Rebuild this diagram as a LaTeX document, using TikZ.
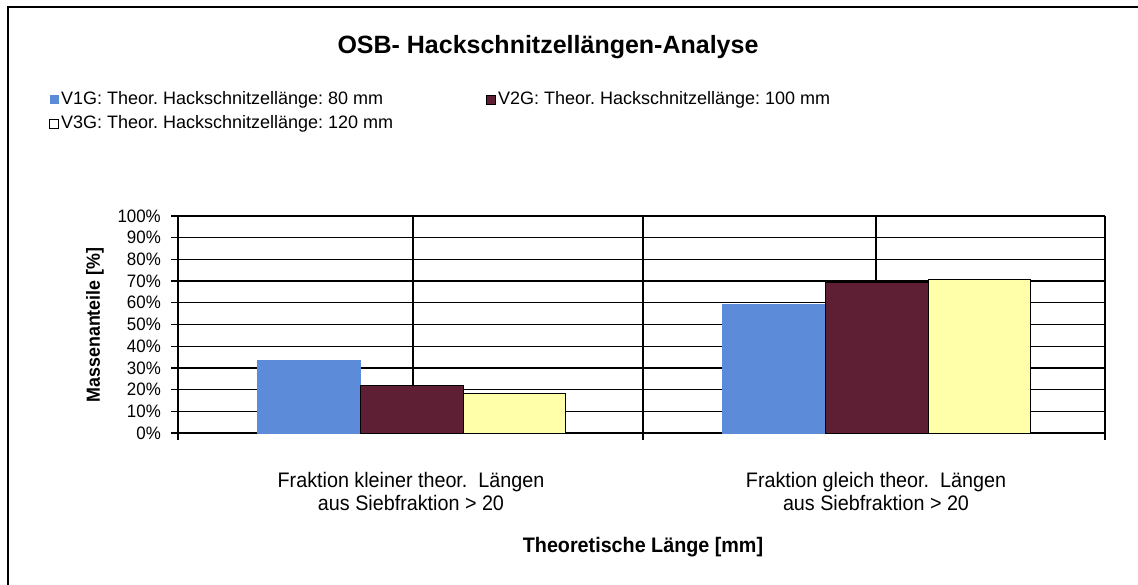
\documentclass[tikz,border=0pt]{standalone}
\usepackage{fontspec}
\setmainfont{Liberation Sans}
\newfontfamily\narrowfont[FakeStretch=0.94]{Liberation Sans}
\usepackage{tikz}
\usetikzlibrary{positioning}
\definecolor{barblue}{RGB}{91,139,217}
\definecolor{barred}{RGB}{94,31,52}
\definecolor{baryellow}{RGB}{255,255,170}

\begin{document}
\frenchspacing
\begin{tikzpicture}[
        x=1pt, y=-1pt,
        % Text styles of the chart
        charttitle/.style={inner sep=0pt, font=\bfseries\fontsize{25}{30}\selectfont},
        legendtext/.style={anchor=west, inner sep=0pt, font=\fontsize{18}{22}\selectfont},
        ticklabel/.style={anchor=east, inner sep=0pt, font=\narrowfont\fontsize{18}{20}\selectfont},
        catlabel/.style={align=center, inner sep=0pt, font=\narrowfont\fontsize{21}{23}\selectfont},
        axistitle/.style={inner sep=0pt, font=\narrowfont\bfseries\fontsize{21}{24}\selectfont},
        % Lines and boxes
        gridline/.style={line width=1.2pt},
        bar/.style={line width=1pt},
        legendbox/.style={minimum size=9pt, inner sep=0pt, line width=0.8pt}
    ]
    \useasboundingbox (0,0) rectangle (1138,585);

    % outer frame, cut off at the right and at the bottom
    \draw[line width=1.2pt] (8,585) -- (8,7) -- (1138,7);

    \node[charttitle] (title) at (548,47) {OSB- Hackschnitzellängen-Analyse};

    % legend
    \node[legendbox, fill=barblue] (keyone) at (54,100) {};
    \node[legendtext, right=2pt of keyone] (labelone) {V1G: Theor. Hackschnitzellänge: 80 mm};
    \node[legendbox, fill=barred, draw=black] (keytwo) at (491,100) {};
    \node[legendtext, right=2pt of keytwo] (labeltwo) {V2G: Theor. Hackschnitzellänge: 100 mm};
    \node[legendbox, fill=white, draw=black] (keythree) at (54,124) {};
    \node[legendtext, right=2pt of keythree] (labelthree) {V3G: Theor. Hackschnitzellänge: 120 mm};

    % horizontal grid with ticks
    \draw[gridline] (171,216) -- (1105,216);
    \draw[gridline] (171,237.7) -- (1105,237.7);
    \draw[gridline] (171,259.4) -- (1105,259.4);
    \draw[gridline] (171,281.1) -- (1105,281.1);
    \draw[gridline] (171,302.8) -- (1105,302.8);
    \draw[gridline] (171,324.5) -- (1105,324.5);
    \draw[gridline] (171,346.2) -- (1105,346.2);
    \draw[gridline] (171,367.9) -- (1105,367.9);
    \draw[gridline] (171,389.6) -- (1105,389.6);
    \draw[gridline] (171,411.3) -- (1105,411.3);
    \draw[gridline] (171,433) -- (1105,433);

    % vertical lines
    \draw[gridline] (178,216) -- (178,440);
    \draw[gridline] (413,216) -- (413,433);
    \draw[gridline] (643,216) -- (643,440);
    \draw[gridline] (876,216) -- (876,433);
    \draw[gridline] (1105,216) -- (1105,440);

    % tick labels
    \node[ticklabel] (tick100) at (161,216) {100\%};
    \node[ticklabel] (tick90) at (161,237.7) {90\%};
    \node[ticklabel] (tick80) at (161,259.4) {80\%};
    \node[ticklabel] (tick70) at (161,281.1) {70\%};
    \node[ticklabel] (tick60) at (161,302.8) {60\%};
    \node[ticklabel] (tick50) at (161,324.5) {50\%};
    \node[ticklabel] (tick40) at (161,346.2) {40\%};
    \node[ticklabel] (tick30) at (161,367.9) {30\%};
    \node[ticklabel] (tick20) at (161,389.6) {20\%};
    \node[ticklabel] (tick10) at (161,411.3) {10\%};
    \node[ticklabel] (tick0) at (161,433) {0\%};

    % bars: fraction smaller than the theoretical length
    \filldraw[bar, fill=barblue, draw=barblue] (257,433) rectangle (360,360.7);
    \filldraw[bar, fill=barred, draw=black] (360,433) rectangle (463,385);
    \filldraw[bar, fill=baryellow, draw=black] (463,433) rectangle (565,393.1);

    % bars: fraction equal to the theoretical length
    \filldraw[bar, fill=barblue, draw=barblue] (722,433) rectangle (825,304.1);
    \filldraw[bar, fill=barred, draw=black] (825,433) rectangle (928,282.4);
    \filldraw[bar, fill=baryellow, draw=black] (928,433) rectangle (1030,279.4);

    % axis labels
    \node[catlabel] (catsmall) at (411,491.5) {Fraktion kleiner theor.\ \ Längen\\aus Siebfraktion > 20};
    \node[catlabel] (catequal) at (876,491.5) {Fraktion gleich theor.\ \ Längen\\aus Siebfraktion > 20};
    \node[axistitle] (xtitle) at (643,547) {Theoretische Länge [mm]};
    \node[axistitle, rotate=90, font=\narrowfont\bfseries\fontsize{19}{22}\selectfont] (ytitle) at (95,325) {Massenanteile [\%]};
\end{tikzpicture}
\end{document}
